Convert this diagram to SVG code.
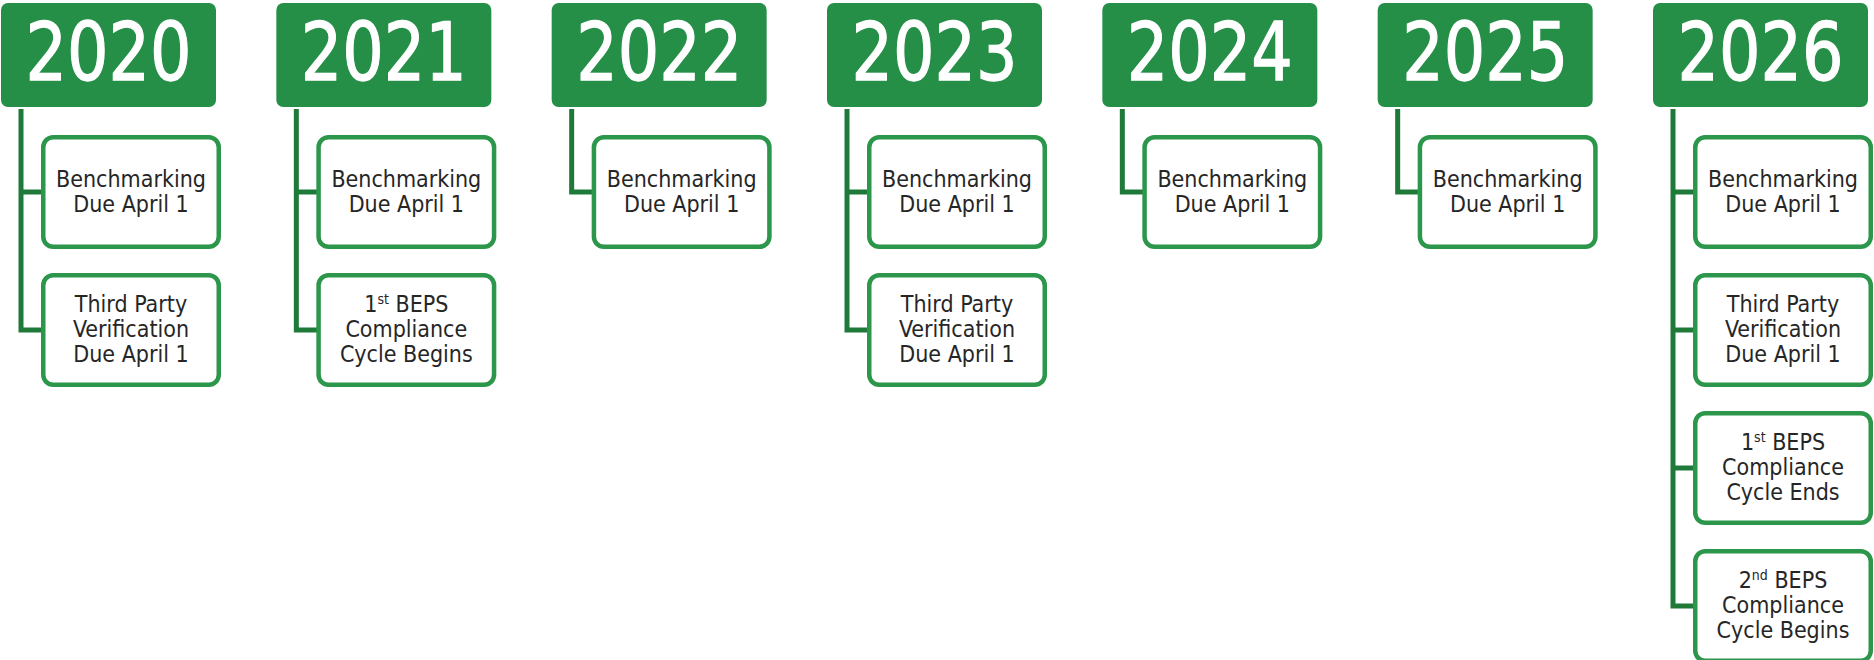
<svg xmlns="http://www.w3.org/2000/svg" width="1874" height="660" viewBox="0 0 1874 660">
<style>
.yr{fill:#258E47;}
.yt{fill:#FFFFFF;stroke:#FFFFFF;stroke-width:1.3;font-family:"DejaVu Sans",sans-serif;font-size:81px;text-anchor:middle;}
.bx{fill:#FFFFFF;stroke:#2C964B;stroke-width:4.5;}
.tx{fill:#262626;font-family:"DejaVu Sans Condensed","DejaVu Sans",sans-serif;font-stretch:condensed;font-size:23px;text-anchor:middle;}
.sup{font-size:14px;}
.cn{fill:none;stroke:#1F7A3A;stroke-width:5;stroke-linejoin:miter;}
</style>
<rect width="1874" height="660" fill="#FFFFFF"/>
<g id="connectors">
<path class="cn" d="M21 109V330H43M21 192H43"/>
<path class="cn" d="M296.33 109V330H318.33M296.33 192H318.33"/>
<path class="cn" d="M571.67 109V192H593.67"/>
<path class="cn" d="M847 109V330H869M847 192H869"/>
<path class="cn" d="M1122.33 109V192H1144.33"/>
<path class="cn" d="M1397.67 109V192H1419.67"/>
<path class="cn" d="M1673 109V606H1695M1673 192H1695M1673 330H1695M1673 468H1695"/>
</g>
<g id="y2020"><rect class="yr" x="1" y="3" width="215" height="104" rx="7"/><text class="yt" x="108.5" y="80" textLength="166" lengthAdjust="spacingAndGlyphs">2020</text></g>
<g id="y2021"><rect class="yr" x="276.33" y="3" width="215" height="104" rx="7"/><text class="yt" x="383.83" y="80" textLength="166" lengthAdjust="spacingAndGlyphs">2021</text></g>
<g id="y2022"><rect class="yr" x="551.67" y="3" width="215" height="104" rx="7"/><text class="yt" x="659.17" y="80" textLength="166" lengthAdjust="spacingAndGlyphs">2022</text></g>
<g id="y2023"><rect class="yr" x="827" y="3" width="215" height="104" rx="7"/><text class="yt" x="934.5" y="80" textLength="166" lengthAdjust="spacingAndGlyphs">2023</text></g>
<g id="y2024"><rect class="yr" x="1102.33" y="3" width="215" height="104" rx="7"/><text class="yt" x="1209.83" y="80" textLength="166" lengthAdjust="spacingAndGlyphs">2024</text></g>
<g id="y2025"><rect class="yr" x="1377.67" y="3" width="215" height="104" rx="7"/><text class="yt" x="1485.17" y="80" textLength="166" lengthAdjust="spacingAndGlyphs">2025</text></g>
<g id="y2026"><rect class="yr" x="1653" y="3" width="215" height="104" rx="7"/><text class="yt" x="1760.5" y="80" textLength="166" lengthAdjust="spacingAndGlyphs">2026</text></g>

<g id="b2020-1"><rect class="bx" x="43.25" y="137.25" width="175.5" height="109.5" rx="10"/><text class="tx" x="131" y="187">Benchmarking</text><text class="tx" x="131" y="212">Due April 1</text></g>
<g id="b2020-2"><rect class="bx" x="43.25" y="275.25" width="175.5" height="109.5" rx="10"/><text class="tx" x="131" y="312">Third Party</text><text class="tx" x="131" y="337">Verification</text><text class="tx" x="131" y="362">Due April 1</text></g>

<g id="b2021-1"><rect class="bx" x="318.58" y="137.25" width="175.5" height="109.5" rx="10"/><text class="tx" x="406.33" y="187">Benchmarking</text><text class="tx" x="406.33" y="212">Due April 1</text></g>
<g id="b2021-2"><rect class="bx" x="318.58" y="275.25" width="175.5" height="109.5" rx="10"/><text class="tx" x="406.33" y="312">1<tspan class="sup" dy="-8">st</tspan><tspan dy="8"> BEPS</tspan></text><text class="tx" x="406.33" y="337">Compliance</text><text class="tx" x="406.33" y="362">Cycle Begins</text></g>

<g id="b2022-1"><rect class="bx" x="593.92" y="137.25" width="175.5" height="109.5" rx="10"/><text class="tx" x="681.67" y="187">Benchmarking</text><text class="tx" x="681.67" y="212">Due April 1</text></g>

<g id="b2023-1"><rect class="bx" x="869.25" y="137.25" width="175.5" height="109.5" rx="10"/><text class="tx" x="957" y="187">Benchmarking</text><text class="tx" x="957" y="212">Due April 1</text></g>
<g id="b2023-2"><rect class="bx" x="869.25" y="275.25" width="175.5" height="109.5" rx="10"/><text class="tx" x="957" y="312">Third Party</text><text class="tx" x="957" y="337">Verification</text><text class="tx" x="957" y="362">Due April 1</text></g>

<g id="b2024-1"><rect class="bx" x="1144.58" y="137.25" width="175.5" height="109.5" rx="10"/><text class="tx" x="1232.33" y="187">Benchmarking</text><text class="tx" x="1232.33" y="212">Due April 1</text></g>

<g id="b2025-1"><rect class="bx" x="1419.92" y="137.25" width="175.5" height="109.5" rx="10"/><text class="tx" x="1507.67" y="187">Benchmarking</text><text class="tx" x="1507.67" y="212">Due April 1</text></g>

<g id="b2026-1"><rect class="bx" x="1695.25" y="137.25" width="175.5" height="109.5" rx="10"/><text class="tx" x="1783" y="187">Benchmarking</text><text class="tx" x="1783" y="212">Due April 1</text></g>
<g id="b2026-2"><rect class="bx" x="1695.25" y="275.25" width="175.5" height="109.5" rx="10"/><text class="tx" x="1783" y="312">Third Party</text><text class="tx" x="1783" y="337">Verification</text><text class="tx" x="1783" y="362">Due April 1</text></g>
<g id="b2026-3"><rect class="bx" x="1695.25" y="413.25" width="175.5" height="109.5" rx="10"/><text class="tx" x="1783" y="450">1<tspan class="sup" dy="-8">st</tspan><tspan dy="8"> BEPS</tspan></text><text class="tx" x="1783" y="475">Compliance</text><text class="tx" x="1783" y="500">Cycle Ends</text></g>
<g id="b2026-4"><rect class="bx" x="1695.25" y="551.25" width="175.5" height="109.5" rx="10"/><text class="tx" x="1783" y="588">2<tspan class="sup" dy="-8">nd</tspan><tspan dy="8"> BEPS</tspan></text><text class="tx" x="1783" y="613">Compliance</text><text class="tx" x="1783" y="638">Cycle Begins</text></g>
</svg>
